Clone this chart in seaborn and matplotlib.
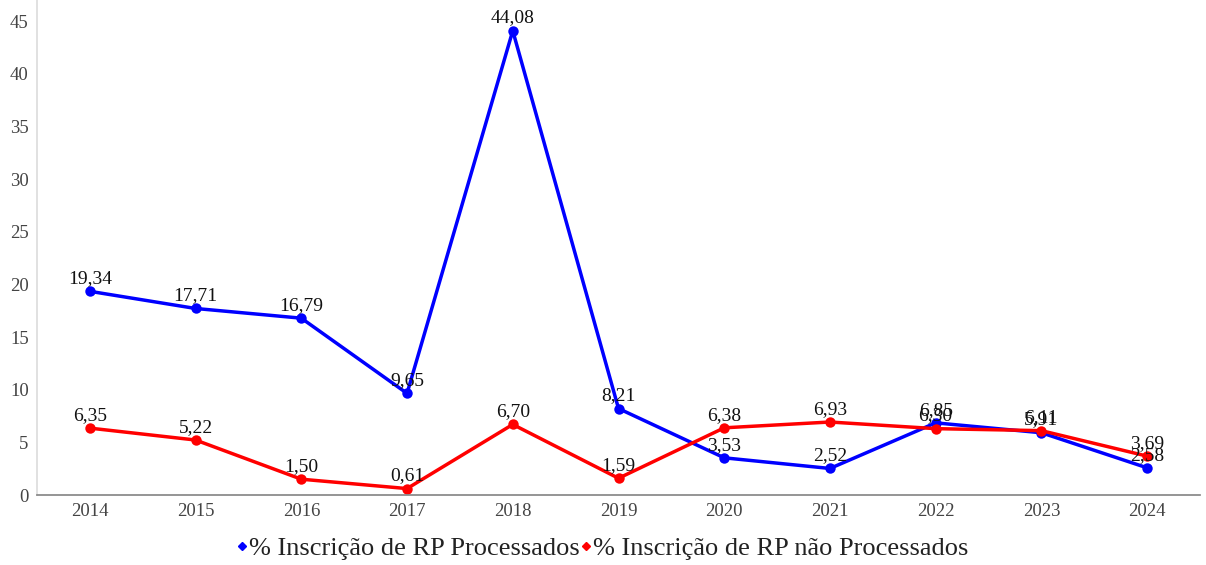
import matplotlib
matplotlib.use("Agg")
import matplotlib.pyplot as plt
import seaborn as sns
import pandas as pd
from matplotlib.lines import Line2D

anos = ["2014", "2015", "2016", "2017", "2018", "2019", "2020", "2021", "2022", "2023", "2024"]
processados = [19.34, 17.71, 16.79, 9.65, 44.08, 8.21, 3.53, 2.52, 6.85, 5.91, 2.58]
nao_processados = [6.35, 5.22, 1.50, 0.61, 6.70, 1.59, 6.38, 6.93, 6.30, 6.11, 3.69]
serie_proc = "% Inscrição de RP Processados"
serie_nao = "% Inscrição de RP não Processados"

sns.set_theme(style="white")
plt.rcParams['font.family'] = ['Liberation Serif', 'DejaVu Serif']

df = pd.DataFrame({
    "ano": list(range(len(anos))) * 2,
    "valor": processados + nao_processados,
    "serie": [serie_proc] * len(anos) + [serie_nao] * len(anos),
})

fig = plt.figure(figsize=(12.06, 5.65), dpi=100)
ax = fig.add_axes([37/1206, 1 - 495/565, (1200-37)/1206, 495/565])

palette = {serie_proc: "#0000ff", serie_nao: "#ff0000"}
sns.lineplot(data=df, x="ano", y="valor", hue="serie", palette=palette,
             marker="o", markersize=7.5, markeredgewidth=0, linewidth=2.5,
             ax=ax, legend=False)

for vals in (processados, nao_processados):
    for i, v in enumerate(vals):
        ax.annotate(f"{v:.2f}".replace(".", ","), (i, v), xytext=(0, 3),
                    textcoords="offset points", ha="center", va="bottom",
                    fontsize=14, color="#111111")

ax.set_xlim(-0.5, len(anos) - 0.5)
ax.set_ylim(0, 47)
ax.set_yticks(range(0, 50, 5))
ax.set_xticks(range(len(anos)))
ax.set_xticklabels(anos)
ax.set_xlabel("")
ax.set_ylabel("")
ax.tick_params(axis="both", labelsize=13.5, labelcolor="#444444", length=3, color="#cccccc", pad=3)
for side in ("top", "right"):
    ax.spines[side].set_visible(False)
ax.spines["left"].set_color("#dddddd")
ax.spines["bottom"].set_color("#888888")

handles = [Line2D([], [], color=palette[s], marker="D", markersize=4.5, linewidth=0) for s in (serie_proc, serie_nao)]
fig.legend(handles, [serie_proc, serie_nao], loc="center", bbox_to_anchor=(0.5, 1 - 548/565),
           ncol=2, frameon=False, fontsize=19, handlelength=0.3, handletextpad=0.1,
           columnspacing=0.1, labelcolor="#222222")

fig.savefig("out.png", dpi=100)
